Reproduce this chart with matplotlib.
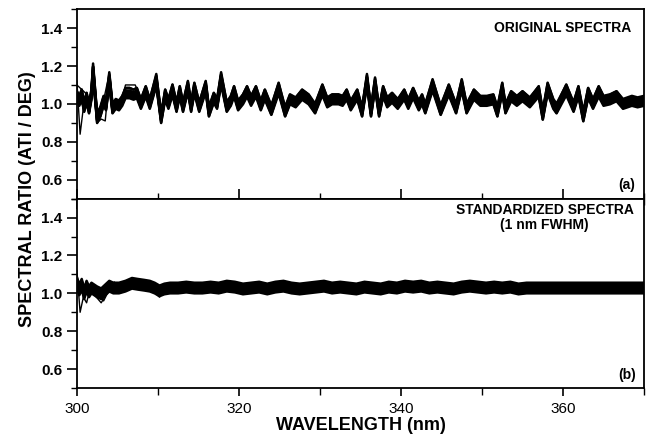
import matplotlib.pyplot as plt
from matplotlib.ticker import MultipleLocator, FormatStrFormatter
import numpy as np

plt.rcParams['font.family'] = ['Liberation Sans', 'DejaVu Sans']

# mean ratio of the original spectra (peaks / troughs)
wl_a = [300.0, 300.3, 300.6, 300.9, 301.2, 301.5, 301.8, 302.0, 302.5, 302.9,
        303.3, 303.6, 304.0, 304.4, 304.8, 305.2, 305.6, 306.0, 306.5, 307.0,
        307.4, 307.9, 308.5, 309.0, 309.8, 310.4, 310.9, 311.3, 311.8, 312.3,
        312.7, 313.1, 313.7, 314.1, 314.5, 315.1, 315.9, 316.3, 316.9, 317.3,
        317.8, 318.5, 319.0, 319.4, 319.9, 320.5, 321.0, 321.5, 322.1, 322.7,
        323.2, 324.0, 324.9, 325.7, 326.3, 327.0, 327.8, 328.6, 329.4, 330.3,
        330.9, 331.5, 332.3, 332.8, 333.3, 333.8, 334.6, 335.2, 335.8, 336.3,
        336.8, 337.3, 337.8, 338.3, 338.9, 339.6, 340.4, 340.9, 341.5, 342.2,
        342.6, 343.0, 343.9, 344.9, 345.9, 346.8, 347.5, 348.1, 349.0, 349.8,
        350.6, 351.4, 351.9, 352.5, 352.9, 353.6, 354.3, 355.0, 355.9, 357.0,
        357.5, 358.1, 358.8, 359.2, 360.4, 361.3, 361.9, 362.5, 363.1, 363.7,
        364.4, 365.0, 365.8, 366.6, 367.4, 368.5, 369.2, 370.0]
ratio_a = [1.05, 1.02, 1.06, 0.98, 1.04, 0.97, 1.06, 1.21, 0.91, 0.95,
           1.02, 0.99, 1.16, 0.97, 1.00, 0.99, 1.02, 1.07, 1.07, 1.06,
           1.07, 1.00, 1.08, 1.00, 1.15, 0.91, 1.06, 1.00, 1.09, 0.98,
           1.08, 0.98, 1.11, 0.98, 1.10, 0.98, 1.11, 0.95, 1.04, 1.00,
           1.16, 0.98, 1.02, 1.08, 0.99, 1.03, 1.08, 1.02, 1.08, 0.99,
           1.06, 0.96, 1.10, 0.95, 1.03, 1.01, 1.06, 1.03, 0.97, 1.09,
           1.01, 1.03, 1.03, 1.02, 1.06, 0.99, 1.06, 0.95, 1.15, 0.95,
           1.13, 0.95, 1.08, 1.01, 1.04, 1.00, 1.06, 1.00, 1.07, 0.99,
           1.03, 0.97, 1.12, 0.96, 1.09, 0.97, 1.12, 0.97, 1.06, 1.02,
           1.02, 1.03, 0.95, 1.10, 0.97, 1.05, 1.02, 1.05, 1.01, 1.08,
           0.93, 1.10, 1.00, 0.97, 1.09, 0.98, 1.08, 0.92, 1.07, 1.00,
           1.08, 1.02, 1.03, 1.05, 1.00, 1.02, 1.01, 1.02]

# stray spectra at the short-wave end
wl_a_odd1 = [300.0, 300.4, 300.8, 301.2, 301.6, 302.0, 302.5, 303.0, 303.5, 304.0]
ratio_a_odd1 = [1.12, 0.84, 0.98, 1.00, 0.96, 1.18, 0.90, 0.92, 0.91, 1.14]
wl_a_odd2 = [300.0, 300.5, 301.0, 301.5, 302.0, 302.6, 303.2, 303.8, 304.4, 305.0]
ratio_a_odd2 = [1.10, 1.08, 1.06, 1.03, 1.08, 0.96, 1.00, 1.12, 1.01, 1.00]
wl_a_odd3 = [305.6, 306.0, 306.6, 307.2, 307.6, 308.0]
ratio_a_odd3 = [1.03, 1.10, 1.10, 1.10, 1.06, 1.02]

# mean ratio after standardisation to 1 nm FWHM
wl_b = [300.0, 300.3, 300.6, 300.9, 301.2, 301.5, 301.8, 302.5, 303.0, 303.5,
        304.0, 304.5, 305.2, 306.0, 306.8, 307.5, 308.3, 309.0, 309.6, 310.2,
        310.8, 311.5, 312.5, 313.5, 314.5, 315.5, 316.5, 317.5, 318.5, 319.5,
        320.5, 321.5, 322.5, 323.5, 324.5, 325.5, 326.5, 327.5, 328.5, 329.5,
        330.5, 331.5, 332.5, 333.5, 334.5, 335.5, 336.5, 337.5, 338.5, 339.5,
        340.5, 341.5, 342.5, 343.5, 344.5, 345.5, 346.5, 347.5, 348.5, 349.5,
        350.5, 351.5, 352.5, 353.5, 354.5, 355.5, 356.5, 357.5, 358.5, 360.0,
        362.0, 364.0, 366.0, 368.0, 370.0]
ratio_b = [1.06, 1.02, 1.05, 1.00, 1.04, 1.01, 1.03, 1.01, 1.00, 1.02,
           1.04, 1.03, 1.03, 1.04, 1.055, 1.05, 1.045, 1.04, 1.03, 1.015,
           1.025, 1.03, 1.03, 1.035, 1.03, 1.03, 1.035, 1.03, 1.04, 1.035,
           1.025, 1.03, 1.035, 1.025, 1.035, 1.04, 1.03, 1.025, 1.03, 1.035,
           1.04, 1.03, 1.035, 1.03, 1.025, 1.035, 1.03, 1.025, 1.035, 1.03,
           1.04, 1.035, 1.04, 1.03, 1.035, 1.03, 1.025, 1.035, 1.04, 1.035,
           1.03, 1.035, 1.03, 1.035, 1.025, 1.03, 1.03, 1.03, 1.03, 1.03,
           1.03, 1.03, 1.03, 1.03, 1.03]

wl_b_odd1 = [300.0, 300.4, 300.8, 301.2, 301.6, 302.2, 303.0, 304.0]
ratio_b_odd1 = [1.12, 0.90, 0.98, 0.95, 1.02, 0.99, 0.95, 1.02]
wl_b_odd2 = [302.5, 303.3, 304.0, 304.6, 305.5, 306.2, 306.8, 307.5, 309.0, 310.2, 311.0]
ratio_b_odd2 = [1.00, 0.96, 1.02, 1.06, 1.03, 1.04, 1.07, 1.05, 1.03, 0.98, 1.02]

# individual spectra in each bundle: gain on the mean deviation and offset
gains_a = [0.80, 0.90, 0.75, 0.85, 0.95, 0.80, 0.88, 0.78, 0.92, 0.82]
shifts_a = [-0.026, -0.02, -0.014, -0.008, -0.003, 0.003, 0.008, 0.014, 0.02, 0.026]
shifts_b = [-0.03, -0.022, -0.014, -0.006, 0.002, 0.01, 0.018, 0.026]

fig, (ax1, ax2) = plt.subplots(2, 1, sharex=True, figsize=(6.46, 4.37), dpi=100)
fig.subplots_adjust(left=0.119, right=0.997, top=0.979, bottom=0.112, hspace=0)

ra = np.array(ratio_a)
for g, s in zip(gains_a, shifts_a):
    ax1.plot(wl_a, 1 + (ra - 1) * g + s, color="black", lw=1.8)
ax1.plot(wl_a_odd1, ratio_a_odd1, color="black", lw=1.0)
ax1.plot(wl_a_odd2, ratio_a_odd2, color="black", lw=1.0)
ax1.plot(wl_a_odd3, ratio_a_odd3, color="black", lw=1.0)

rb = np.array(ratio_b)
for s in shifts_b:
    ax2.plot(wl_b, rb + s, color="black", lw=1.8)
ax2.plot(wl_b_odd1, ratio_b_odd1, color="black", lw=1.0)
ax2.plot(wl_b_odd2, ratio_b_odd2, color="black", lw=1.0)

for ax in (ax1, ax2):
    ax.set_xlim(300, 370)
    ax.set_ylim(0.5, 1.5)
    ax.yaxis.set_minor_locator(MultipleLocator(0.1))
    ax.yaxis.set_major_formatter(FormatStrFormatter("%.1f"))
    ax.set_yticks([0.6, 0.8, 1.0, 1.2, 1.4])
    ax.xaxis.set_major_locator(MultipleLocator(20))
    ax.xaxis.set_minor_locator(MultipleLocator(10))
    ax.tick_params(axis="y", which="major", direction="out", length=7, width=1.2,
                   labelsize=11)
    ax.tick_params(axis="y", which="minor", direction="out", length=4, width=1.0)
    for lab in ax.get_yticklabels():
        lab.set_fontweight("bold")
    for sp in ax.spines.values():
        sp.set_linewidth(1.3)

ax1.tick_params(axis="x", which="major", direction="inout", length=14, width=1.2)
ax1.tick_params(axis="x", which="minor", direction="inout", length=8, width=1.0)
ax2.tick_params(axis="x", which="major", direction="out", length=6, width=1.2,
                labelsize=11, pad=4)
ax2.tick_params(axis="x", which="minor", direction="out", length=5, width=1.0)

ax1.text(0.977, 0.90, "ORIGINAL SPECTRA", transform=ax1.transAxes,
         ha="right", va="center", fontsize=10, fontweight="bold")
ax1.text(0.985, 0.07, "(a)", transform=ax1.transAxes,
         ha="right", va="center", fontsize=10, fontweight="bold")
ax2.text(0.825, 0.90, "STANDARDIZED SPECTRA\n(1 nm FWHM)", transform=ax2.transAxes,
         ha="center", va="center", fontsize=10, fontweight="bold", linespacing=1.1)
ax2.text(0.985, 0.07, "(b)", transform=ax2.transAxes,
         ha="right", va="center", fontsize=10, fontweight="bold")

ax2.set_xlabel("WAVELENGTH (nm)", fontsize=13, fontweight="bold", labelpad=1)
fig.text(0.042, 0.545, "SPECTRAL RATIO (ATI / DEG)", rotation=90,
         ha="center", va="center", fontsize=13, fontweight="bold")

fig.savefig("out.png", dpi=100)
